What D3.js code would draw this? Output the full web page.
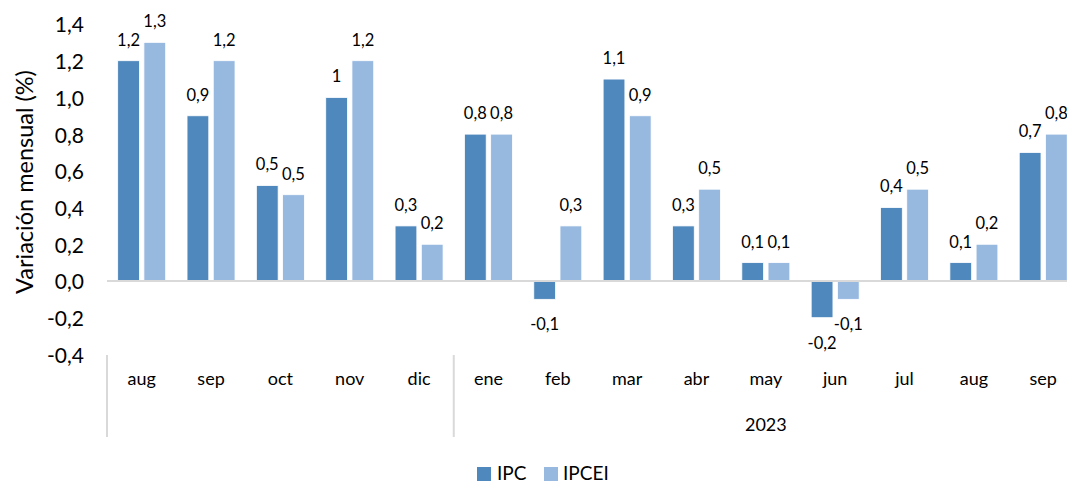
<!DOCTYPE html>
<html>
<head>
<meta charset="utf-8">
<script src="https://cdn.jsdelivr.net/npm/d3@7"></script>
<style>
  html, body { margin: 0; padding: 0; background: #fff; }
  svg { display: block; font-family: Lato, "Open Sans", sans-serif; }
</style>
</head>
<body>
<svg id="chart" width="1067" height="483"></svg>
<script>
// ---- data ----
const categories = ["aug", "sep", "oct", "nov", "dic", "ene", "feb", "mar", "abr", "may", "jun", "jul", "aug", "sep"];
const groups = [{ label: "", start: 0, end: 4 }, { label: "2023", start: 5, end: 13 }];
const seriesNames = ["IPC", "IPCEI"];
const ipc   = [1.2, 0.9, 0.52, 1.0, 0.3, 0.8, -0.1, 1.1, 0.3, 0.1, -0.2, 0.4, 0.1, 0.7];
const ipcei = [1.3, 1.2, 0.47, 1.2, 0.2, 0.8, 0.3, 0.9, 0.5, 0.1, -0.1, 0.5, 0.2, 0.8];
const yTicks = [-0.4, -0.2, 0.0, 0.2, 0.4, 0.6, 0.8, 1.0, 1.2, 1.4];
const yTitle = "Variación mensual (%)";
const colors = { IPC: "#4f88bc", IPCEI: "#97b9e0" };

const svg = d3.select("#chart");
const left = 107, step = 69.35;
const x0 = d3.scaleBand().domain(d3.range(categories.length))
  .range([left, left + step * categories.length]).paddingInner(0).paddingOuter(0);
const x1 = d3.scaleBand().domain(seriesNames)
  .range([step * 0.154, step * 0.846]).paddingInner(0.17);
const y = d3.scaleLinear().domain([-0.4, 1.4]).range([354.4, 24]);

const fmtTick = v => d3.format(".1f")(v).replace(".", ",").replace("\u2212", "-");
const fmtLabel = v => {
  const r = Math.round(v * 10) / 10;
  return (Number.isInteger(r) ? String(r) : r.toFixed(1)).replace(".", ",");
};

// y-axis (labels only)
const yAxis = svg.append("g").attr("transform", `translate(${left},0)`)
  .call(d3.axisLeft(y).tickValues(yTicks).tickFormat(fmtTick).tickSize(0).tickPadding(23));
yAxis.select(".domain").remove();
yAxis.selectAll("text").attr("font-family", "Lato, sans-serif").attr("font-size", 21).attr("fill", "#000").attr("dy", "0.38em");

// y title
svg.append("text")
  .attr("transform", `translate(33,182) rotate(-90)`)
  .attr("text-anchor", "middle")
  .attr("font-size", 23.5).attr("fill", "#000")
  .text(yTitle);

// bars
const data = categories.map((c, i) => ({ i, values: [{ s: "IPC", v: ipc[i] }, { s: "IPCEI", v: ipcei[i] }] }));
const gCat = svg.append("g").selectAll("g").data(data).join("g")
  .attr("transform", d => `translate(${x0(d.i)},0)`);
gCat.selectAll("rect").data(d => d.values).join("rect")
  .attr("x", d => x1(d.s))
  .attr("width", x1.bandwidth())
  .attr("y", d => y(Math.max(0, d.v)))
  .attr("height", d => Math.abs(y(d.v) - y(0)))
  .attr("fill", d => colors[d.s])
  .attr("stroke", "#fff").attr("stroke-width", 0.8);

// zero line
svg.append("line")
  .attr("x1", left).attr("x2", x0.range()[1])
  .attr("y1", y(0)).attr("y2", y(0))
  .attr("stroke", "#d9d9d9").attr("stroke-width", 2);

// data labels
gCat.selectAll("text.lbl").data(d => d.values).join("text").attr("class", "lbl")
  .attr("x", d => x1(d.s) + x1.bandwidth() / 2)
  .attr("y", d => d.v >= 0 ? y(d.v) - 21 : y(d.v) + 25)
  .attr("dy", "0.36em")
  .attr("text-anchor", "middle")
  .attr("font-size", 16.5).attr("fill", "#000")
  .text(d => fmtLabel(d.v));

// category axis
const xAxis = svg.append("g").attr("transform", `translate(0,372)`)
  .call(d3.axisBottom(x0).tickFormat(i => categories[i]).tickSize(0).tickPadding(0));
xAxis.select(".domain").remove();
xAxis.selectAll("text").attr("font-family", "Lato, sans-serif").attr("font-size", 18).attr("fill", "#000");

// group dividers and labels
const divTop = 355, divBot = 437;
groups.forEach(g => {
  const gx = x0(g.start);
  svg.append("line").attr("x1", gx).attr("x2", gx).attr("y1", divTop).attr("y2", divBot)
    .attr("stroke", "#d9d9d9").attr("stroke-width", 2);
  if (g.label) {
    const cx = (x0(g.start) + x0(g.end) + x0.bandwidth()) / 2;
    svg.append("text").attr("x", cx).attr("y", 431).attr("text-anchor", "middle")
      .attr("font-size", 18).attr("fill", "#000").text(g.label);
  }
});

// legend
const legend = svg.append("g");
const legendPos = [{ s: "IPC", x: 477, tx: 497 }, { s: "IPCEI", x: 544, tx: 563 }];
legendPos.forEach(p => {
  legend.append("rect").attr("x", p.x).attr("y", 467).attr("width", 14).attr("height", 14).attr("fill", colors[p.s]);
  legend.append("text").attr("x", p.tx).attr("y", 480).attr("font-size", 19).attr("fill", "#000").text(p.s);
});
</script>
</body>
</html>
